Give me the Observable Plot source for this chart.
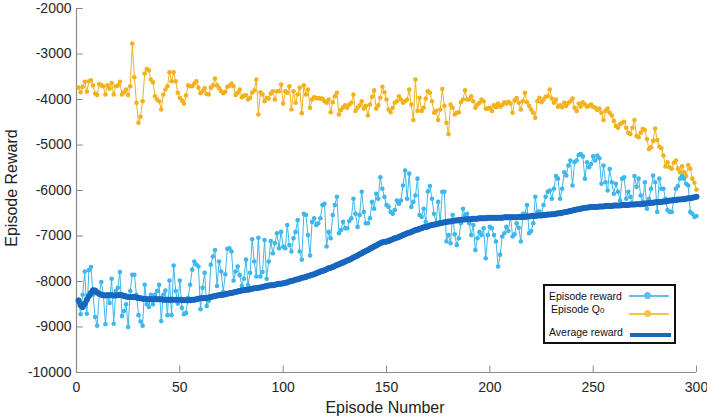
<!DOCTYPE html>
<html>
<head>
<meta charset="utf-8">
<script src="https://cdn.jsdelivr.net/npm/d3@7"></script>
<script src="https://cdn.jsdelivr.net/npm/@observablehq/plot@0.6"></script>
<style>
  body { margin: 0; background: #fff; }
  #wrap { position: relative; width: 707px; height: 416px; font-family: "Liberation Sans", Arial, sans-serif; }
  .axlabel { position: absolute; font-size: 16px; color: #222; white-space: nowrap; }
  #legend { position: absolute; left: 543px; top: 284px; width: 133px; height: 60px; box-sizing: border-box;
            border: 2px solid #111; background: #fff; font-size: 10.5px; color: #111; }
  #legend .t { position: absolute; white-space: nowrap; line-height: 12px; }
  #legend .l { position: absolute; height: 2px; }
  #legend .d { position: absolute; width: 7px; height: 7px; border-radius: 50%; }
</style>
</head>
<body>
<div id="wrap"></div>
<script>
// ---- data ----
const xTicks = [0, 50, 100, 150, 200, 250, 300];
const yTicks = [-10000, -9000, -8000, -7000, -6000, -5000, -4000, -3000, -2000];
const seriesNames = ["Episode reward", "Episode Q₀", "Average reward"];

const episodeQ0 = [
 -3740,-3840,-3720,-3610,-3830,-3600,-3580,-3690,-3870,-3900,
 -3660,-3690,-3710,-3890,-3690,-3760,-3640,-3890,-3710,-3690,
 -3610,-3890,-3840,-3780,-3900,-3710,-2770,-3510,-4070,-4510,
 -4380,-4040,-3430,-3330,-3360,-3560,-3620,-3930,-4000,-4040,
 -4220,-3890,-3780,-3710,-3400,-3600,-3400,-3600,-3850,-3960,
 -4020,-4090,-3910,-3690,-3710,-3710,-3650,-3600,-3740,-3860,
 -3820,-3750,-3880,-3890,-3740,-3690,-3540,-3690,-3750,-3820,
 -3860,-3830,-3720,-3700,-3650,-3710,-3900,-3850,-3780,-3950,
 -3920,-3900,-4000,-3960,-3850,-3800,-3560,-4330,-3840,-3890,
 -4040,-3960,-3980,-3870,-3820,-4000,-3820,-3820,-3670,-4090,
 -3820,-3850,-3710,-4220,-3820,-4070,-3890,-3740,-4300,-3690,
 -3890,-3780,-4180,-4000,-3950,-3970,-3970,-3980,-3980,-4040,
 -4070,-4000,-4280,-4060,-3930,-3850,-4330,-4230,-4170,-4130,
 -4180,-4110,-4070,-3890,-4250,-4180,-4130,-4040,-4200,-4140,
 -4350,-4110,-3940,-3800,-4200,-4130,-3960,-3720,-3840,-4000,
 -4220,-4280,-4180,-4070,-4040,-3930,-4000,-4070,-4040,-4000,
 -3780,-4110,-4450,-3560,-4250,-3960,-4250,-4180,-3980,-3820,
 -3850,-4040,-4290,-4250,-4450,-4220,-3770,-4140,-4510,-4760,
 -4110,-4180,-4330,-4290,-4280,-4060,-4000,-3800,-4000,-4000,
 -3930,-4040,-4180,-4110,-4070,-4000,-4040,-4200,-4200,-4180,
 -4250,-4130,-4170,-4090,-4160,-4120,-4060,-4090,-4050,-4090,
 -4290,-4020,-3970,-4070,-4220,-4040,-3850,-4060,-4140,-4220,
 -4290,-4400,-4040,-3960,-4060,-4000,-3940,-3930,-3780,-3980,
 -4070,-4000,-4160,-4130,-4170,-4070,-4140,-4070,-4040,-3980,
 -4180,-4250,-4090,-4160,-4060,-4110,-4160,-4140,-4110,-4160,
 -4180,-4230,-4200,-4290,-4450,-4250,-4200,-4290,-4350,-4470,
 -4580,-4620,-4540,-4510,-4490,-4620,-4730,-4760,-4620,-4450,
 -4800,-4830,-4730,-4650,-4670,-4870,-5090,-5050,-4910,-4640,
 -4890,-5040,-5070,-5230,-5470,-5380,-5490,-5520,-5390,-5340,
 -5520,-5600,-5470,-5600,-5680,-5440,-5520,-5740,-5830,-5980
];

const episodeReward = [
 -8400,-8720,-8290,-7780,-8710,-7750,-7680,-8290,-8780,-8970,
 -8290,-8010,-8290,-8940,-8290,-8470,-7940,-8930,-8210,-8140,
 -7790,-8760,-8650,-8500,-9000,-8210,-7850,-7850,-8290,-8740,
 -8880,-8970,-8070,-8500,-8560,-8290,-8500,-8290,-8210,-8070,
 -8870,-8290,-8200,-8740,-7980,-8740,-7650,-8210,-8490,-7980,
 -8580,-8720,-8690,-8360,-8070,-7740,-7560,-7630,-7670,-8610,
 -8140,-7810,-8540,-8430,-7630,-7450,-7310,-8100,-7560,-7780,
 -8230,-7840,-7280,-7270,-7340,-7980,-7780,-7670,-7860,-8100,
 -7940,-7520,-8080,-7810,-7070,-7560,-7890,-7040,-7890,-7790,
 -7090,-7940,-7560,-7110,-7380,-7160,-6940,-7270,-6910,-7230,
 -7270,-6760,-7200,-7340,-7050,-6910,-6650,-7340,-7520,-6510,
 -6540,-6980,-7430,-6690,-6610,-6760,-6720,-6610,-6320,-6290,
 -7230,-6910,-7050,-6540,-6320,-6140,-6940,-6870,-6690,-6830,
 -6830,-6670,-6610,-6180,-6510,-6800,-6540,-6030,-6470,-6720,
 -6720,-6610,-6250,-6400,-6070,-6180,-5710,-5960,-6140,-6320,
 -6360,-6470,-6510,-6430,-6220,-6290,-6220,-5890,-5560,-6180,
 -5630,-6360,-6250,-6110,-5740,-6540,-6580,-6400,-6690,-6020,
 -5900,-6180,-6510,-6720,-6250,-6690,-6030,-6030,-7120,-6980,
 -7160,-6540,-6960,-7200,-7050,-6720,-6400,-6540,-6510,-6720,
 -6980,-6760,-7310,-7050,-6910,-6980,-6830,-7490,-6980,-6800,
 -6830,-6980,-7120,-7670,-7410,-7010,-6940,-6800,-6890,-6580,
 -7010,-6960,-6720,-6820,-7120,-6510,-6510,-6320,-6940,-6890,
 -6720,-6140,-6470,-6460,-6510,-6320,-6140,-6030,-6000,-6180,
 -5960,-5680,-5740,-6180,-5960,-5600,-5670,-5450,-5340,-5890,
 -5380,-5340,-5220,-5200,-5250,-5740,-5380,-5490,-5420,-5250,
 -5340,-5230,-5290,-5850,-5450,-5820,-6000,-5530,-5820,-6070,
 -5850,-6030,-6220,-5740,-5710,-6180,-6030,-6140,-6320,-5680,
 -5920,-5740,-6110,-6250,-5820,-6400,-6180,-5960,-5670,-5820,
 -6470,-5740,-5960,-5960,-6180,-6430,-6470,-6470,-6220,-5960,
 -5900,-5740,-5680,-5740,-5850,-5890,-6470,-6510,-6580,-6560
];

const averageReward = [
 -8420,-8520,-8560,-8490,-8400,-8320,-8250,-8190,-8200,-8240,
 -8270,-8290,-8300,-8310,-8300,-8300,-8300,-8310,-8310,-8300,
 -8290,-8300,-8320,-8330,-8340,-8340,-8340,-8340,-8350,-8360,
 -8370,-8380,-8380,-8390,-8390,-8390,-8390,-8390,-8390,-8390,
 -8390,-8400,-8400,-8400,-8400,-8400,-8400,-8400,-8400,-8400,
 -8400,-8410,-8410,-8410,-8410,-8400,-8400,-8390,-8380,-8370,
 -8370,-8360,-8360,-8350,-8340,-8330,-8320,-8310,-8300,-8290,
 -8290,-8280,-8270,-8260,-8250,-8240,-8230,-8220,-8210,-8200,
 -8190,-8180,-8180,-8170,-8160,-8150,-8150,-8140,-8130,-8120,
 -8110,-8100,-8090,-8080,-8080,-8070,-8060,-8050,-8050,-8040,
 -8030,-8020,-8000,-7990,-7980,-7960,-7950,-7940,-7920,-7910,
 -7900,-7880,-7870,-7850,-7840,-7820,-7800,-7780,-7770,-7750,
 -7730,-7710,-7700,-7680,-7660,-7640,-7620,-7600,-7580,-7560,
 -7540,-7520,-7500,-7470,-7450,-7430,-7400,-7380,-7350,-7330,
 -7310,-7280,-7260,-7230,-7210,-7180,-7160,-7140,-7130,-7120,
 -7110,-7090,-7070,-7050,-7040,-7020,-7000,-6980,-6960,-6940,
 -6930,-6910,-6890,-6870,-6860,-6840,-6830,-6810,-6800,-6790,
 -6770,-6760,-6750,-6740,-6730,-6720,-6710,-6700,-6690,-6680,
 -6680,-6670,-6660,-6660,-6650,-6650,-6640,-6640,-6630,-6630,
 -6630,-6620,-6620,-6620,-6610,-6610,-6610,-6610,-6600,-6600,
 -6600,-6600,-6600,-6600,-6600,-6600,-6590,-6590,-6590,-6590,
 -6590,-6590,-6590,-6580,-6580,-6580,-6580,-6570,-6570,-6560,
 -6560,-6560,-6550,-6550,-6550,-6540,-6540,-6530,-6530,-6520,
 -6520,-6510,-6500,-6500,-6490,-6480,-6470,-6460,-6450,-6440,
 -6430,-6420,-6410,-6400,-6390,-6380,-6380,-6370,-6360,-6360,
 -6360,-6360,-6350,-6350,-6350,-6340,-6340,-6340,-6340,-6330,
 -6330,-6330,-6330,-6320,-6320,-6320,-6320,-6310,-6310,-6310,
 -6300,-6300,-6300,-6290,-6290,-6280,-6280,-6270,-6270,-6260,
 -6260,-6250,-6250,-6240,-6240,-6230,-6220,-6220,-6210,-6210,
 -6200,-6200,-6190,-6190,-6180,-6170,-6170,-6160,-6150,-6140
];

const colors = { reward: "#3db7ec", q0: "#f2b11f", avg: "#1766bf" };

// ---- build tables ----
const toRows = arr => arr.map((v, i) => ({ ep: i + 1, v }));
const q0Rows = toRows(episodeQ0);
const rewardRows = toRows(episodeReward);
const avgRows = toRows(averageReward);

const axisGray = "#8a8a8a";

const chart = Plot.plot({
  width: 707,
  height: 416,
  marginLeft: 76,
  marginRight: 11,
  marginTop: 8,
  marginBottom: 44,
  style: { fontFamily: "'Liberation Sans', Arial, sans-serif", fontSize: "14px", color: "#262626", background: "#fff", overflow: "visible" },
  x: { domain: [0, 300], ticks: xTicks, tickSize: 0, tickPadding: 10, label: null, tickFormat: d => String(d) },
  y: { domain: [-10000, -2000], ticks: yTicks, tickSize: 0, tickPadding: 5, label: null, tickFormat: d => String(d) },
  marks: [
    Plot.ruleX([0], { stroke: axisGray, strokeWidth: 1.2 }),
    Plot.ruleY([-10000], { stroke: axisGray, strokeWidth: 1.2 }),
    Plot.ruleY(yTicks, { y: d => d, x1: 0, x2: 3.3, stroke: axisGray }),
    Plot.ruleX(xTicks, { x: d => d, y1: -10000, y2: -9860, stroke: axisGray }),
    Plot.line(q0Rows, { x: "ep", y: "v", stroke: colors.q0, strokeWidth: 1 }),
    Plot.dot(q0Rows, { x: "ep", y: "v", r: 2.3, fill: colors.q0, stroke: "none" }),
    Plot.line(rewardRows, { x: "ep", y: "v", stroke: colors.reward, strokeWidth: 1 }),
    Plot.dot(rewardRows, { x: "ep", y: "v", r: 2.3, fill: colors.reward, stroke: "none" }),
    Plot.line(avgRows, { x: "ep", y: "v", stroke: colors.avg, strokeWidth: 5 }),
    Plot.dot(avgRows, { x: "ep", y: "v", r: 3, fill: colors.avg, stroke: "none" })
  ]
});

const wrap = document.getElementById("wrap");
wrap.appendChild(chart);

// axis titles
const xl = document.createElement("div");
xl.className = "axlabel";
xl.textContent = "Episode Number";
xl.style.left = "385px"; xl.style.top = "399px"; xl.style.transform = "translateX(-50%)";
wrap.appendChild(xl);

const yl = document.createElement("div");
yl.className = "axlabel";
yl.textContent = "Episode Reward";
yl.style.left = "12px"; yl.style.top = "188px";
yl.style.transform = "translate(-50%, -50%) rotate(-90deg)";
wrap.appendChild(yl);

// legend
const lg = document.createElement("div");
lg.id = "legend";
lg.innerHTML = `
  <div class="t" style="left:4px;top:4px;">${seriesNames[0]}</div>
  <div class="l" style="left:84px;top:9px;width:40px;background:#5cc0ea;"></div>
  <div class="d" style="left:99px;top:6px;background:#5cc0ea;"></div>
  <div class="t" style="left:6px;top:17px;">Episode Q<span style="font-size:8px;">0</span></div>
  <div class="l" style="left:84px;top:27px;width:40px;background:#f6c24a;"></div>
  <div class="d" style="left:99px;top:24px;background:#f6c24a;"></div>
  <div class="t" style="left:4px;top:40px;">${seriesNames[2]}</div>
  <div class="l" style="left:85px;top:47px;width:41px;height:4px;background:#1766bf;"></div>
`;
wrap.appendChild(lg);
</script>
</body>
</html>
